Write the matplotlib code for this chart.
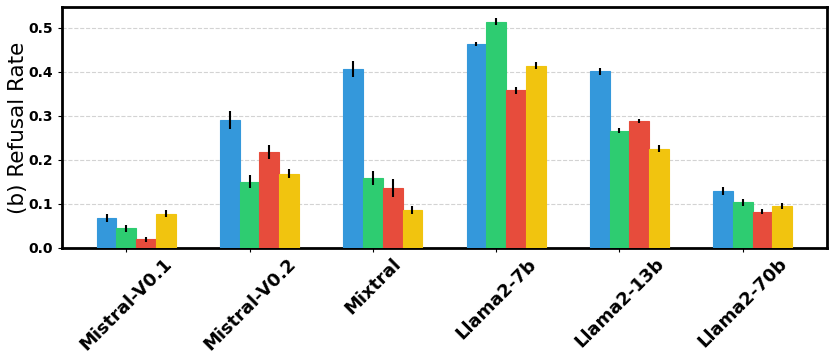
import matplotlib
matplotlib.use("Agg")
import matplotlib.pyplot as plt
import numpy as np

models = ["Mistral-V0.1", "Mistral-V0.2", "Mixtral", "Llama2-7b", "Llama2-13b", "Llama2-70b"]
blue_vals = [0.068, 0.291, 0.407, 0.464, 0.402, 0.129]
green_vals = [0.045, 0.151, 0.160, 0.514, 0.267, 0.104]
red_vals = [0.020, 0.218, 0.136, 0.358, 0.289, 0.082]
yellow_vals = [0.078, 0.169, 0.086, 0.414, 0.226, 0.096]
blue_err = [0.0095, 0.020, 0.019, 0.005, 0.008, 0.0087]
green_err = [0.008, 0.014, 0.016, 0.008, 0.006, 0.0075]
red_err = [0.006, 0.0155, 0.021, 0.0075, 0.005, 0.0057]
yellow_err = [0.008, 0.010, 0.009, 0.008, 0.0075, 0.007]

series = [
    (blue_vals, blue_err, "#3498db"),
    (green_vals, green_err, "#2ecc71"),
    (red_vals, red_err, "#e74c3c"),
    (yellow_vals, yellow_err, "#f1c40f"),
]

fig = plt.figure(figsize=(8.31, 3.62), dpi=100)
ax = fig.add_axes([0.0746, 0.315, 0.9204, 0.666])
x = np.arange(len(models))
w = 0.16
for j, (vals, errs, col) in enumerate(series):
    ax.bar(x + (j - 1) * w, vals, w, yerr=errs, color=col, edgecolor=col,
           linewidth=0.8, alpha=1.0,
           error_kw=dict(ecolor="black", elinewidth=1.5, capsize=0), zorder=3)

ax.set_ylim(0, 0.548)
ax.set_yticks([0.0, 0.1, 0.2, 0.3, 0.4, 0.5])
ax.set_yticklabels(["0.0", "0.1", "0.2", "0.3", "0.4", "0.5"], fontweight="bold", fontsize=10)
ax.set_xticks(x)
ax.set_xticklabels(models, rotation=45, fontweight="bold", fontsize=13)
ax.tick_params(axis="x", length=3, pad=2)
ax.tick_params(axis="y", length=3)
ax.set_ylabel("(b) Refusal Rate", fontsize=15.5, labelpad=0)
ax.yaxis.grid(True, linestyle="--", color="lightgray", linewidth=0.8, zorder=0)
ax.set_axisbelow(True)
for s in ax.spines.values():
    s.set_linewidth(2)
    s.set_color("black")
fig.savefig("out.png", dpi=100)
